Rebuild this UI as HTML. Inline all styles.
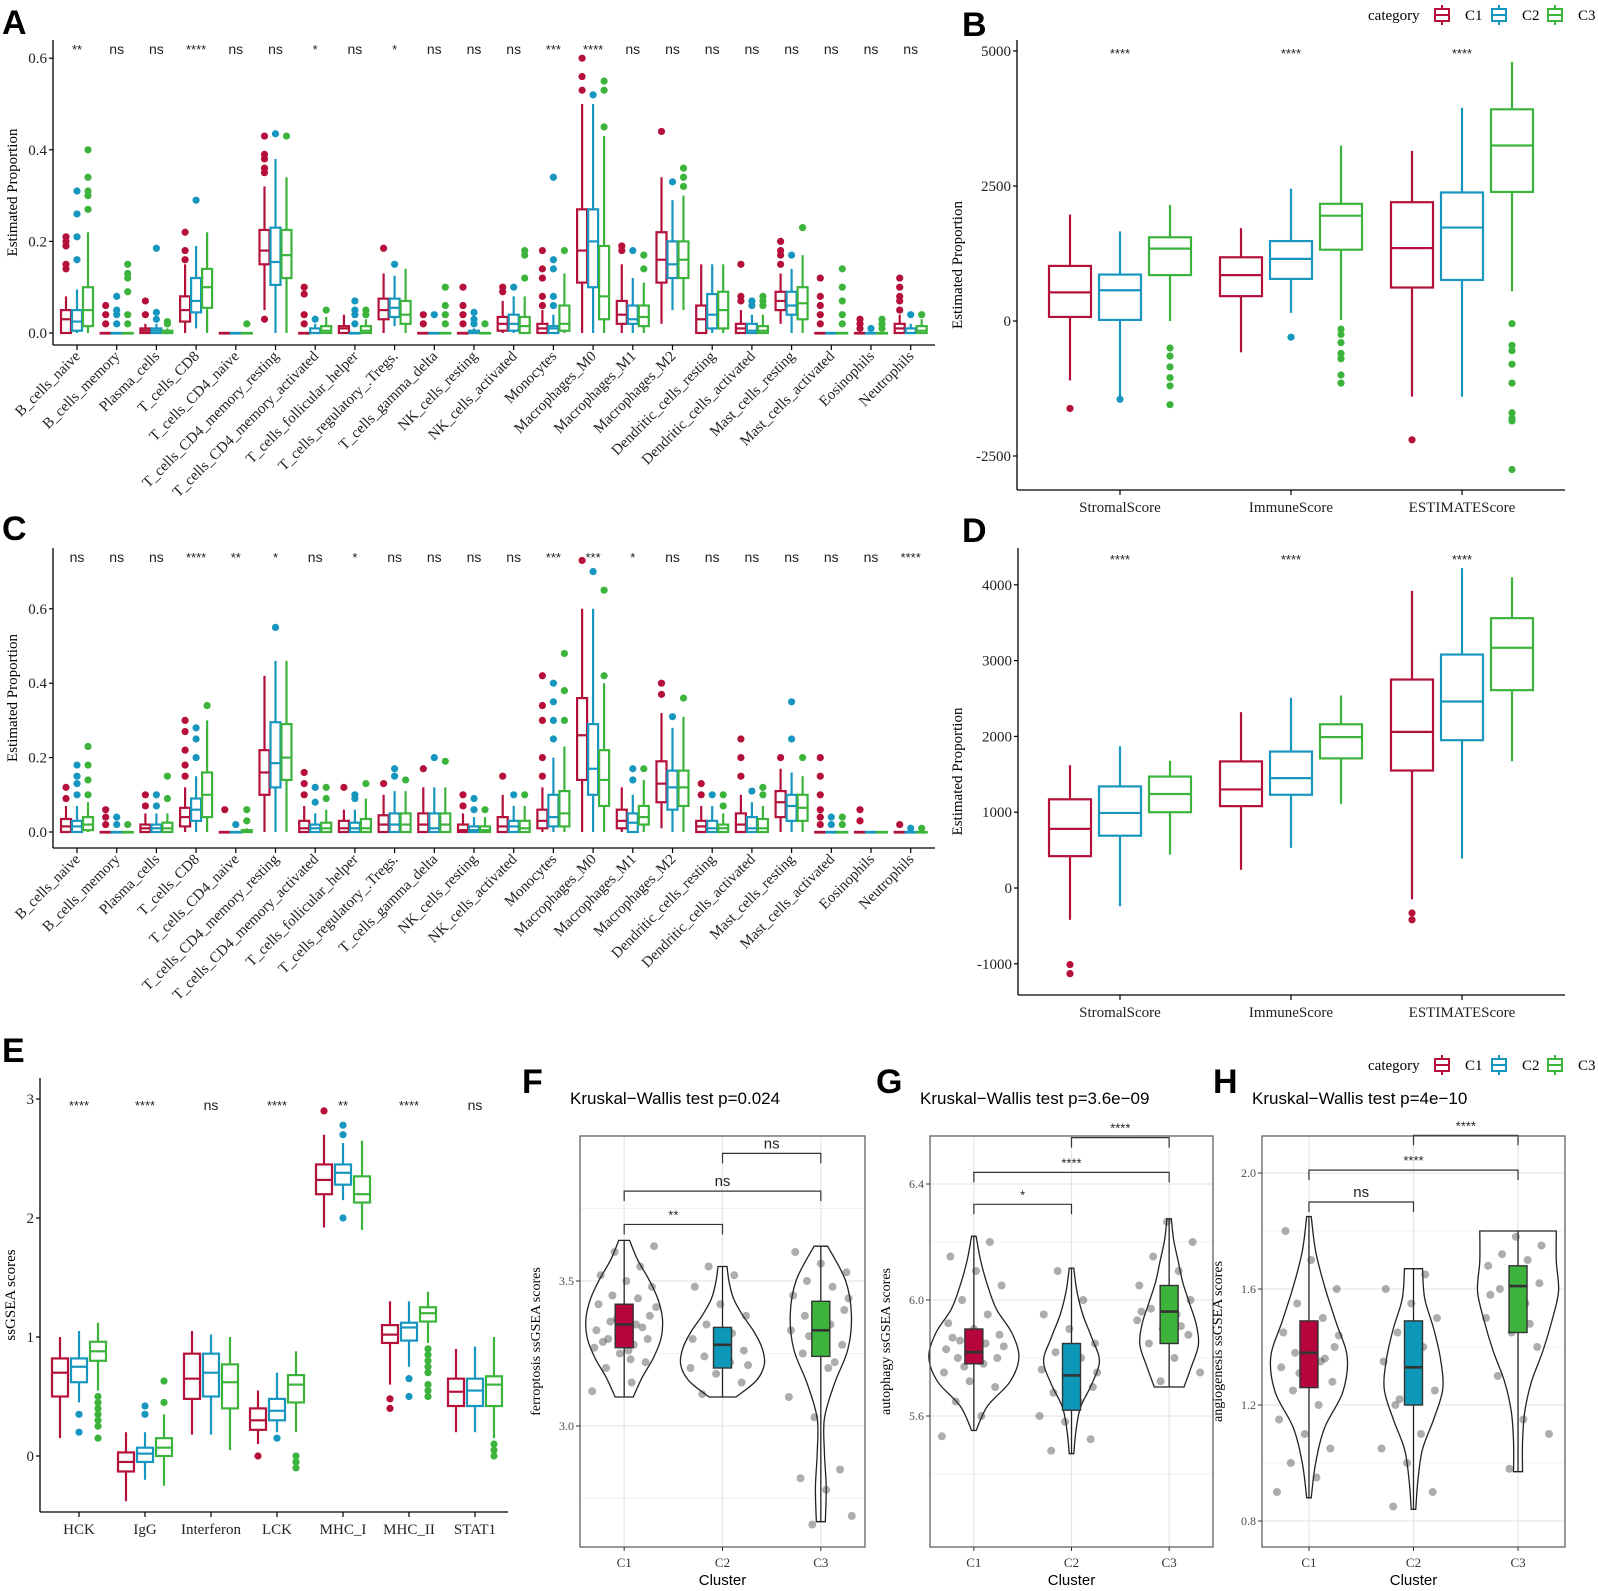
<!DOCTYPE html>
<html><head><meta charset="utf-8"><style>
html,body{margin:0;padding:0;background:#fff;}
svg{display:block;}
.ser{font-family:"Liberation Serif",serif;}
.sans{font-family:"Liberation Sans",sans-serif;}
</style></head><body>
<svg id="fig" xmlns="http://www.w3.org/2000/svg" width="1598" height="1591" viewBox="0 0 1598 1591">
<rect width="1598" height="1591" fill="#fff"/>
<g class="sans" font-weight="bold" font-size="34" fill="#000">
<text x="2" y="34">A</text>
<text x="962" y="36">B</text>
<text x="2" y="540">C</text>
<text x="962" y="542">D</text>
<text x="2" y="1062">E</text>
<text x="522" y="1093">F</text>
<text x="876" y="1093">G</text>
<text x="1213" y="1093">H</text>
</g>
</svg>
<script>
const NS='http://www.w3.org/2000/svg';
const svg=document.getElementById('fig');
const COLS=['#b5103a','#1796bf','#3cb43c'];
const GROUPS=['C1','C2','C3'];

// ---------- Panel A / C data (stats order: q1, median, q3, whiskerLow, whiskerHigh) ----------
const cellCats=['B_cells_naive','B_cells_memory','Plasma_cells','T_cells_CD8','T_cells_CD4_naive','T_cells_CD4_memory_resting','T_cells_CD4_memory_activated','T_cells_follicular_helper','T_cells_regulatory_.Tregs.','T_cells_gamma_delta','NK_cells_resting','NK_cells_activated','Monocytes','Macrophages_M0','Macrophages_M1','Macrophages_M2','Dendritic_cells_resting','Dendritic_cells_activated','Mast_cells_resting','Mast_cells_activated','Eosinophils','Neutrophils'];
const Z=[0,0,0,0,0];
const aSig=['**','ns','ns','****','ns','ns','*','ns','*','ns','ns','ns','***','****','ns','ns','ns','ns','ns','ns','ns','ns'];
const aStats=[
[[0,.03,.05,0,.08],[.005,.025,.05,0,.095],[.015,.05,.1,0,.22]],
[Z,Z,Z],
[[0,.005,.01,0,.02],[0,.005,.01,0,.02],[0,0,.005,0,.01]],
[[.025,.05,.08,0,.15],[.045,.07,.12,.01,.19],[.055,.1,.14,0,.22]],
[Z,Z,Z],
[[.15,.18,.225,.05,.32],[.105,.155,.23,0,.38],[.12,.17,.225,0,.34]],
[Z,[0,0,.01,0,.02],[0,.005,.015,0,.035]],
[[0,.01,.015,0,.04],Z,[0,.005,.015,0,.03]],
[[.03,.05,.075,0,.13],[.035,.055,.075,.015,.125],[.02,.04,.07,0,.14]],
[Z,Z,Z],
[Z,[0,0,.005,0,.01],Z],
[[.005,.02,.035,0,.07],[.005,.02,.04,0,.08],[0,.015,.035,0,.08]],
[[0,.01,.02,0,.05],[0,.01,.015,0,.04],[.005,.02,.06,0,.13]],
[[.11,.18,.27,0,.5],[.1,.2,.27,0,.5],[.03,.08,.19,0,.43]],
[[.02,.04,.07,0,.15],[.02,.03,.06,0,.12],[.015,.035,.06,0,.11]],
[[.11,.16,.22,.02,.34],[.12,.15,.2,.05,.29],[.12,.16,.2,.05,.3]],
[[0,.03,.06,0,.15],[.01,.04,.085,0,.15],[.01,.05,.09,0,.15]],
[[0,.01,.02,0,.05],[0,.005,.02,0,.04],[0,.005,.015,0,.04]],
[[.05,.07,.09,.02,.13],[.04,.06,.09,0,.14],[.03,.065,.1,0,.17]],
[Z,Z,Z],
[Z,Z,Z],
[[0,.01,.02,0,.04],[0,0,.01,0,.02],[0,.005,.015,0,.03]]
];
const aOut=[
[[.14,.15,.19,.2,.21],[.16,.21,.26,.31],[.27,.3,.31,.34,.4]],
[[.02,.04,.06],[.02,.04,.05,.08],[.02,.04,.09,.12,.13,.15]],
[[.04,.07],[.03,.045,.185],[.02,.025]],
[[.16,.18,.22],[.29],[]],
[[],[],[.02]],
[[.03,.35,.36,.38,.39,.43],[.435],[.43]],
[[.02,.04,.085,.1],[.03],[.05]],
[[],[.02,.04,.05,.07],[.04,.05]],
[[.185],[.15],[]],
[[.02,.04],[.04],[.02,.04,.06,.1]],
[[.02,.04,.06,.1],[.02,.03,.045],[.02]],
[[.09,.1],[.1],[.12,.17,.18]],
[[.06,.08,.12,.14,.18],[.06,.08,.14,.16,.34],[.18]],
[[.53,.56,.6],[.52],[.45,.53,.55]],
[[.18,.19],[.18],[.14,.17]],
[[.44],[.33],[.32,.34,.36]],
[[],[],[]],
[[.07,.08,.15],[.06,.07],[.06,.07,.08]],
[[.15,.17,.18,.2],[.17],[.23]],
[[.02,.04,.06,.08,.12],[],[.02,.04,.07,.1,.14]],
[[.01,.02,.03],[.01],[.01,.02,.03]],
[[.05,.07,.08,.1,.12],[.04],[.04]]
];
const cSig=['ns','ns','ns','****','**','*','ns','*','ns','ns','ns','ns','***','***','*','ns','ns','ns','ns','ns','ns','****'];
const cStats=[
[[0,.015,.035,0,.07],[0,.015,.03,0,.07],[.005,.02,.04,0,.08]],
[Z,Z,Z],
[[0,.01,.02,0,.05],[0,.01,.02,0,.05],[0,.01,.025,0,.05]],
[[.015,.04,.065,0,.12],[.03,.06,.09,0,.15],[.04,.1,.16,0,.3]],
[Z,Z,[0,0,.005,0,.01]],
[[.1,.16,.22,0,.42],[.12,.185,.295,0,.46],[.14,.2,.29,0,.46]],
[[0,.01,.03,0,.07],[0,.01,.02,0,.05],[0,.01,.025,0,.06]],
[[0,.01,.03,0,.06],[0,.01,.025,0,.06],[0,.01,.035,0,.09]],
[[0,.02,.045,0,.1],[0,.02,.05,0,.11],[0,.02,.05,0,.11]],
[[0,.02,.05,0,.12],[0,.01,.05,0,.12],[0,.02,.05,0,.12]],
[[0,.005,.02,0,.05],[0,.005,.015,0,.04],[0,.005,.015,0,.04]],
[[0,.015,.04,0,.1],[0,.015,.03,0,.07],[0,.01,.03,0,.07]],
[[.01,.03,.06,0,.12],[.015,.04,.1,0,.2],[.015,.05,.11,0,.23]],
[[.14,.26,.36,0,.6],[.1,.17,.29,0,.6],[.07,.14,.22,0,.4]],
[[.01,.03,.06,0,.12],[0,.025,.05,0,.1],[.02,.04,.07,0,.14]],
[[.08,.13,.19,.01,.32],[.06,.12,.165,0,.28],[.07,.12,.165,0,.31]],
[[0,.015,.03,0,.07],[0,.01,.03,0,.07],[0,.01,.02,0,.05]],
[[0,.02,.05,0,.1],[0,.01,.04,0,.08],[0,.01,.035,0,.07]],
[[.04,.08,.11,0,.17],[.03,.07,.1,0,.16],[.03,.065,.1,0,.15]],
[Z,Z,Z],
[Z,Z,Z],
[Z,Z,Z]
];
const cOut=[
[[.09,.12],[.1,.13,.15,.18],[.1,.14,.18,.23]],
[[.02,.04,.06],[.02,.04],[.02]],
[[.07,.1],[.07,.1],[.09,.15]],
[[.15,.18,.22,.27,.3],[.2,.25,.28],[.34]],
[[.06],[.02],[.03,.06]],
[[],[.55],[]],
[[.1,.13,.16],[.08,.12],[.09,.12]],
[[.12],[.09,.1],[.13]],
[[.13],[.15,.17],[.14]],
[[.17],[.2],[.19]],
[[.07,.1],[.06,.09],[.06]],
[[.15],[.1],[.1]],
[[.15,.2,.3,.34,.42],[.25,.3,.35,.4],[.3,.38,.48]],
[[.73],[.7],[.42,.65]],
[[],[.14,.17],[.17]],
[[.37,.4],[.31],[.36]],
[[.1,.13],[.1],[.07,.1]],
[[.15,.2,.25],[.11],[.1,.12]],
[[.2],[.25,.35],[.2]],
[[.02,.04,.06,.1,.15,.2],[.02,.04],[.02,.04]],
[[.03,.06],[],[]],
[[.02],[.01],[.01]]
];
const propTicks=[0,0.2,0.4,0.6];
const propTickLabels=['0.0','0.2','0.4','0.6'];

// ---------- Panel B / D data ----------
const scoreCats=['StromalScore','ImmuneScore','ESTIMATEScore'];
const scoreSig=['****','****','****'];
const bStats=[
[[75,530,1020,-1100,1970],[20,570,860,-1400,1660],[850,1340,1550,0,2150]],
[[460,850,1180,-580,1720],[780,1150,1480,150,2450],[1320,1950,2170,20,3250]],
[[620,1350,2200,-1400,3150],[760,1730,2380,-1400,3950],[2390,3250,3920,550,4800]]
];
const bOut=[
[[-1620],[-1450],[-500,-650,-850,-1050,-1200,-1550]],
[[],[-300],[-150,-250,-400,-600,-700,-1000,-1150]],
[[-2200],[],[-50,-450,-550,-800,-1150,-1700,-1800,-1850,-2750]]
];
const bTicks=[-2500,0,2500,5000];
const dStats=[
[[420,780,1170,-420,1620],[690,990,1340,-240,1870],[1000,1240,1470,440,1680]],
[[1080,1300,1670,240,2320],[1230,1450,1800,530,2510],[1710,1990,2160,1110,2540]],
[[1550,2060,2750,-150,3920],[1950,2460,3080,390,4220],[2610,3170,3560,1670,4100]]
];
const dOut=[
[[-1010,-1130],[],[]],
[[],[],[]],
[[-330,-420],[],[]]
];
const dTicks=[-1000,0,1000,2000,3000,4000];

// ---------- Panel E data ----------
const eCats=['HCK','IgG','Interferon','LCK','MHC_I','MHC_II','STAT1'];
const eSig=['****','****','ns','****','**','****','ns'];
const eStats=[
[[.5,.7,.82,.15,1.0],[.62,.75,.82,.45,1.05],[.8,.88,.96,.55,1.12]],
[[-.13,-.05,.03,-.38,.2],[-.05,.02,.07,-.2,.2],[0,.07,.15,-.25,.35]],
[[.48,.65,.86,.18,1.05],[.5,.7,.86,.18,1.02],[.4,.62,.77,.05,1.0]],
[[.22,.3,.4,.1,.55],[.3,.38,.48,.2,.7],[.45,.6,.68,.2,.88]],
[[2.2,2.32,2.45,1.92,2.7],[2.28,2.38,2.45,2.15,2.63],[2.13,2.2,2.35,1.9,2.65]],
[[.95,1.02,1.1,.6,1.3],[.97,1.08,1.12,.75,1.3],[1.13,1.2,1.25,.95,1.38]],
[[.42,.54,.65,.2,.9],[.42,.55,.65,.2,.92],[.42,.6,.67,.15,1.0]]
];
const eOut=[
[[],[.2,.35],[.15,.25,.3,.35,.4,.45,.5]],
[[],[.35,.42],[.45,.63]],
[[],[],[]],
[[0],[.15],[-.05,-.1,0]],
[[2.9],[2.0,2.7,2.78],[]],
[[.4,.48],[.5,.65],[.5,.55,.6,.7,.75,.8,.85,.9]],
[[],[],[0,.05,.1]]
];
const eTicks=[0,1,2,3];

// ---------- Panels F/G/H (violin) data ----------
const fBox=[[3.27,3.35,3.42],[3.2,3.28,3.34],[3.24,3.33,3.43]];
const fRange=[[3.1,3.64],[3.1,3.55],[2.67,3.62]];
const fDens=[[0.2,0.4,0.65,0.82,0.85,0.75,0.55,0.3,0.12],[0.3,0.75,0.93,0.88,0.7,0.45,0.25,0.15,0.1],[0.1,0.12,0.08,0.08,0.3,0.6,0.68,0.55,0.15]];
const fPts=[[3.12,3.15,3.2,3.22,3.25,3.27,3.28,3.3,3.3,3.32,3.33,3.35,3.36,3.38,3.4,3.42,3.44,3.45,3.48,3.5,3.52,3.55,3.6,3.62,3.26,3.29,3.34,3.37,3.41,3.23],[3.11,3.15,3.18,3.2,3.22,3.24,3.26,3.28,3.3,3.32,3.35,3.38,3.42,3.48,3.52,3.55,3.21,3.27],[2.66,2.69,2.78,2.82,2.85,3.03,3.1,3.2,3.25,3.28,3.3,3.33,3.35,3.38,3.4,3.42,3.45,3.48,3.5,3.53,3.56,3.6,3.22,3.31,3.44]];
const fTicks=[3.0,3.5];
const fBrackets=[[0,1,'**'],[0,2,'ns'],[1,2,'ns']];
const fBrackY=[3.695,3.81,3.94];
const fP='0.024';
const gBox=[[5.78,5.82,5.9],[5.62,5.74,5.85],[5.85,5.96,6.05]];
const gRange=[[5.55,6.22],[5.47,6.11],[5.7,6.28]];
const gDens=[[0.05,0.3,0.8,1.0,0.85,0.5,0.3,0.15,0.05],[0.05,0.1,0.2,0.45,0.62,0.45,0.25,0.12,0.05],[0.33,0.5,0.65,0.6,0.45,0.3,0.2,0.1,0.05]];
const gPts=[[5.53,5.6,5.65,5.7,5.72,5.75,5.78,5.8,5.8,5.82,5.83,5.85,5.86,5.88,5.9,5.92,5.95,6.0,6.05,6.1,6.15,6.2,5.77,5.84,5.79,5.87],[5.48,5.52,5.58,5.6,5.65,5.68,5.7,5.73,5.76,5.8,5.82,5.85,5.9,5.95,6.0,6.1,5.75,5.63],[5.72,5.75,5.8,5.85,5.88,5.9,5.93,5.95,5.97,6.0,6.02,6.05,6.1,6.15,6.2,6.27,5.96,5.91]];
const gTicks=[5.6,6.0,6.4];
const gBrackets=[[0,1,'*'],[0,2,'****'],[1,2,'****']];
const gBrackY=[6.33,6.44,6.56];
const gP='3.6e\u221209';
const hBox=[[1.26,1.38,1.49],[1.2,1.33,1.49],[1.45,1.61,1.68]];
const hRange=[[0.88,1.85],[0.84,1.67],[0.97,1.8]];
const hDens=[[0.05,0.15,0.35,0.75,0.85,0.6,0.35,0.15,0.05],[0.05,0.1,0.2,0.45,0.65,0.6,0.45,0.25,0.2],[0.1,0.1,0.15,0.3,0.55,0.75,0.9,0.85,0.85]];
const hPts=[[0.9,0.95,1.0,1.05,1.1,1.15,1.2,1.25,1.28,1.3,1.33,1.35,1.38,1.4,1.42,1.45,1.5,1.55,1.6,1.7,1.8,1.36,1.31,1.44],[0.85,0.9,1.0,1.05,1.1,1.2,1.25,1.3,1.35,1.4,1.45,1.5,1.55,1.6,1.65,1.22],[0.98,1.1,1.15,1.3,1.4,1.45,1.5,1.55,1.6,1.62,1.65,1.68,1.7,1.72,1.75,1.78,1.58,1.48]];
const hTicks=[0.8,1.2,1.6,2.0];
const hBrackets=[[0,1,'ns'],[0,2,'****'],[1,2,'****']];
const hBrackY=[1.9,2.01,2.13];
const hP='4e\u221210';

// ---------- helpers ----------
function el(tag,attrs,parent){const e=document.createElementNS(NS,tag);for(const k in attrs)e.setAttribute(k,attrs[k]);(parent||svg).appendChild(e);return e;}
function txt(x,y,s,attrs,parent){const t=el('text',Object.assign({x:x,y:y},attrs),parent);t.textContent=s;return t;}

function boxGlyph(g,cx,bw,st,y,col,outs,name){
  const [q1,md,q3,lo,hi]=st;
  const w1=el('line',{x1:cx,x2:cx,y1:y(q3),y2:y(hi),stroke:col,'stroke-width':2.2},g);
  
  
  const w2=el('line',{x1:cx,x2:cx,y1:y(q1),y2:y(lo),stroke:col,'stroke-width':2.2},g);
  
  
  const r=el('rect',{x:cx-bw/2,y:y(q3),width:bw,height:Math.max(0.5,y(q1)-y(q3)),fill:'#fff',stroke:col,'stroke-width':2.2},g);
  
  
  const m=el('line',{x1:cx-bw/2,x2:cx+bw/2,y1:y(md),y2:y(md),stroke:col,'stroke-width':2.2},g);
  
  
  outs.forEach(v=>{
    const c=el('circle',{cx:cx,cy:y(v),r:3.6,fill:col},g);
    
    
  });
}

function boxPanel(o){
  const g=el('g',{class:'ser'});
  
  
  const ya=el('line',{x1:o.x0,x2:o.x0,y1:o.top,y2:o.bottom,stroke:'#000','stroke-width':1.3},g);
  
  
  const xa=el('line',{x1:o.x0,x2:o.x1,y1:o.bottom,y2:o.bottom,stroke:'#000','stroke-width':1.3},g);
  
  
  o.ticks.forEach((v,i)=>{
    const tk=el('line',{x1:o.x0-4,x2:o.x0,y1:o.y(v),y2:o.y(v),stroke:'#000','stroke-width':1.2},g);
    
    
    const tl=txt(o.x0-6,o.y(v)+5,o.tickLabels?o.tickLabels[i]:String(v),{'text-anchor':'end','font-size':o.tfs||15,fill:'#222'},g);
    
    
  });
  const yt=txt(0,0,o.ytitle,{'font-size':15,'text-anchor':'middle',fill:'#000',transform:`translate(${o.ytx},${(o.top+o.bottom)/2}) rotate(-90)`},g);
  
  
  o.cats.forEach((c,i)=>{
    const cx=o.xc(i);
    const tk=el('line',{x1:cx,x2:cx,y1:o.bottom,y2:o.bottom+5,stroke:'#000','stroke-width':1.2},g);
    
    
    let lab;
    if(o.rot){lab=txt(cx+4,o.bottom+12,c,{'text-anchor':'end','font-size':15,fill:'#222',transform:`rotate(-45 ${cx+4} ${o.bottom+12})`},g);}
    else{lab=txt(cx,o.bottom+22,c,{'text-anchor':'middle','font-size':15,fill:'#222'},g);}
    
    
    const sg=txt(cx,o.sigY,o.sig[i],{'text-anchor':'middle','font-size':o.sig[i]==='ns'?14:13,fill:'#222',class:'sans'},g);
    
    
    for(let k=0;k<3;k++){
      boxGlyph(g,cx+(k-1)*o.off,o.bw,o.stats[i][k],o.y,COLS[k],o.outs[i][k],'box-'+GROUPS[k].toLowerCase());
    }
  });
}

boxPanel({name:'panel-a-cibersort',cats:cellCats,stats:aStats,outs:aOut,sig:aSig,
  y:v=>333-v*458,xc:i=>77+i*39.7,off:11,bw:10,x0:53,x1:935,top:40,bottom:345,
  ticks:propTicks,tickLabels:propTickLabels,ytitle:'Estimated Proportion',ytx:17,sigY:54,rot:true});
boxPanel({name:'panel-c-cibersort',cats:cellCats,stats:cStats,outs:cOut,sig:cSig,
  y:v=>832-v*372,xc:i=>77+i*39.7,off:11,bw:10,x0:53,x1:935,top:548,bottom:848,
  ticks:propTicks,tickLabels:propTickLabels,ytitle:'Estimated Proportion',ytx:17,sigY:562,rot:true});
boxPanel({name:'panel-b-estimate',cats:scoreCats,stats:bStats,outs:bOut,sig:scoreSig,
  y:v=>321-v*0.054,xc:i=>1120+i*171,off:50,bw:42,x0:1017,x1:1565,top:40,bottom:490,
  ticks:bTicks,ytitle:'Estimated Proportion',ytx:962,sigY:58,rot:false});
boxPanel({name:'panel-d-estimate',cats:scoreCats,stats:dStats,outs:dOut,sig:scoreSig,
  y:v=>888-v*0.0758,xc:i=>1120+i*171,off:50,bw:42,x0:1018,x1:1565,top:548,bottom:995,
  ticks:dTicks,ytitle:'Estimated Proportion',ytx:962,sigY:564,rot:false});
boxPanel({name:'panel-e-ssgsea',cats:eCats,stats:eStats,outs:eOut,sig:eSig,
  y:v=>1456-v*119,xc:i=>79+i*66,off:19,bw:16,x0:40,x1:508,top:1078,bottom:1512,
  ticks:eTicks,ytitle:'ssGSEA scores',ytx:15,sigY:1110,rot:false});

function legend(y,name){
  const g=el('g',{class:'ser'});
  
  
  const t=txt(1368,y+5,'category',{'font-size':15,fill:'#000'},g);
  
  
  const xs=[1435,1492,1548];
  for(let k=0;k<3;k++){
    const x=xs[k];
    const e=el('g',{},g);
    
    
    el('line',{x1:x+7,x2:x+7,y1:y-10,y2:y+10,stroke:COLS[k],'stroke-width':2},e);
    el('rect',{x:x,y:y-6,width:14,height:12,fill:'#fff',stroke:COLS[k],'stroke-width':2},e);
    el('line',{x1:x,x2:x+14,y1:y,y2:y,stroke:COLS[k],'stroke-width':2},e);
    txt(x+30,y+5,GROUPS[k],{'font-size':15,fill:'#000'},e);
  }
}
legend(15,'legend-top');
legend(1065,'legend-bottom');

const FILLS=['#b5053c','#0d98ba','#3cb43c'];
function smoothPath(pts){
  let d='M'+pts[0][0]+','+pts[0][1];
  for(let i=0;i<pts.length-1;i++){
    const p0=pts[Math.max(0,i-1)],p1=pts[i],p2=pts[i+1],p3=pts[Math.min(pts.length-1,i+2)];
    const c1=[p1[0]+(p2[0]-p0[0])/6,p1[1]+(p2[1]-p0[1])/6];
    const c2=[p2[0]-(p3[0]-p1[0])/6,p2[1]-(p3[1]-p1[1])/6];
    d+=` C${c1[0]},${c1[1]} ${c2[0]},${c2[1]} ${p2[0]},${p2[1]}`;
  }
  return d;
}
function violinPanel(o){
  const g=el('g',{});
  
  
  const {x0,x1,top,bottom}=o;
  const xs=[x0+(x1-x0)*0.155,x0+(x1-x0)*0.5,x0+(x1-x0)*0.845];
  const y=o.y;
  const step=o.ticks[1]-o.ticks[0];
  const minorVals=[];
  for(let v=o.ticks[0]-step*1.5;v<=o.ticks[o.ticks.length-1]+step*1.5;v+=step)minorVals.push(v);
  minorVals.forEach(v=>{const yy=y(v);if(yy>top&&yy<bottom){const l=el('line',{x1:x0,x2:x1,y1:yy,y2:yy,stroke:'#f2f2f2','stroke-width':1},g);}});
  o.ticks.forEach(v=>{const l=el('line',{x1:x0,x2:x1,y1:y(v),y2:y(v),stroke:'#e6e6e6','stroke-width':1.2},g);});
  xs.forEach(x=>{const l=el('line',{x1:x,x2:x,y1:top,y2:bottom,stroke:'#e6e6e6','stroke-width':1.2},g);});
  for(let k=0;k<3;k++){
    const [lo,hi]=o.range[k];const dens=o.dens[k];const n=dens.length;
    const right=[],left=[];
    for(let i=0;i<n;i++){const v=lo+(hi-lo)*i/(n-1);right.push([xs[k]+dens[i]*45,y(v)]);left.push([xs[k]-dens[i]*45,y(v)]);}
    left.reverse();
    const p=el('path',{d:smoothPath(right)+' L'+left[0][0]+','+left[0][1]+smoothPath(left).replace(/^M[^ C]+/,'')+' Z',fill:'#fff',stroke:'#222','stroke-width':1.3},g);
    
    
    const wl=el('line',{x1:xs[k],x2:xs[k],y1:y(lo),y2:y(hi),stroke:'#222','stroke-width':1.3},g);
    
    
    o.pts[k].forEach((v,j)=>{
      const off=(((j*37+k*11)%61)-30)/30*32;
      const c=el('circle',{cx:xs[k]+off,cy:y(v),r:4,fill:'#333','fill-opacity':0.4},g);
      
      
    });
    const [q1,md,q3]=o.box[k];
    const r=el('rect',{x:xs[k]-9,y:y(q3),width:18,height:y(q1)-y(q3),fill:FILLS[k],stroke:'#333','stroke-width':1.4},g);
    
    
    const m=el('line',{x1:xs[k]-9,x2:xs[k]+9,y1:y(md),y2:y(md),stroke:'#333','stroke-width':2.6},g);
    
    
  }
  o.brackets.forEach((b,i)=>{
    const yy=y(o.brackY[i]);const xa=xs[b[0]],xb=xs[b[1]];
    const pl=el('polyline',{points:`${xa},${yy+10} ${xa},${yy} ${xb},${yy} ${xb},${yy+10}`,fill:'none',stroke:'#333','stroke-width':1.2},g);
    
    
    const t=txt((xa+xb)/2,yy-5,b[2],{'text-anchor':'middle','font-size':b[2]==='ns'?15:13,fill:'#222',class:'sans'},g);
    
    
  });
  const bd=el('rect',{x:x0,y:top,width:x1-x0,height:bottom-top,fill:'none',stroke:'#555','stroke-width':1.2},g);
  
  
  o.ticks.forEach(v=>{
    const tk=el('line',{x1:x0-4,x2:x0,y1:y(v),y2:y(v),stroke:'#333','stroke-width':1},g);
    
    
    const tl=txt(x0-6,y(v)+4,v.toFixed(1),{'text-anchor':'end','font-size':12,fill:'#4d4d4d',class:'ser'},g);
    
    
  });
  xs.forEach((x,k)=>{
    const tk=el('line',{x1:x,x2:x,y1:bottom,y2:bottom+4,stroke:'#333','stroke-width':1},g);
    
    
    const tl=txt(x,bottom+20,GROUPS[k],{'text-anchor':'middle','font-size':13,fill:'#333',class:'ser'},g);
    
    
  });
  const xt=txt((x0+x1)/2,bottom+38,'Cluster',{'text-anchor':'middle','font-size':15,fill:'#000',class:'sans'},g);
  
  
  const yt=txt(0,0,o.ytitle,{'text-anchor':'middle','font-size':14,fill:'#000',class:'ser',transform:`translate(${x0-40},${(top+bottom)/2}) rotate(-90)`},g);
  
  
  const tt=txt(x0-10,top-32,'Kruskal\u2212Wallis test p='+o.p,{'font-size':17,fill:'#000',class:'sans'},g);
  
  
}
violinPanel({name:'panel-f-ferroptosis',x0:580,x1:865,top:1136,bottom:1547,y:v=>1281-(v-3.5)*290,
  ticks:fTicks,range:fRange,dens:fDens,pts:fPts,box:fBox,brackets:fBrackets,brackY:fBrackY,p:fP,ytitle:'ferroptosis ssGSEA scores'});
violinPanel({name:'panel-g-autophagy',x0:930,x1:1213,top:1136,bottom:1547,y:v=>1300-(v-6.0)*290,
  ticks:gTicks,range:gRange,dens:gDens,pts:gPts,box:gBox,brackets:gBrackets,brackY:gBrackY,p:gP,ytitle:'autophagy ssGSEA scores'});
violinPanel({name:'panel-h-angiogenesis',x0:1262,x1:1565,top:1136,bottom:1547,y:v=>1289-(v-1.6)*290,
  ticks:hTicks,range:hRange,dens:hDens,pts:hPts,box:hBox,brackets:hBrackets,brackY:hBrackY,p:hP,ytitle:'angiogenesis ssGSEA scores'});
</script>
</body></html>
